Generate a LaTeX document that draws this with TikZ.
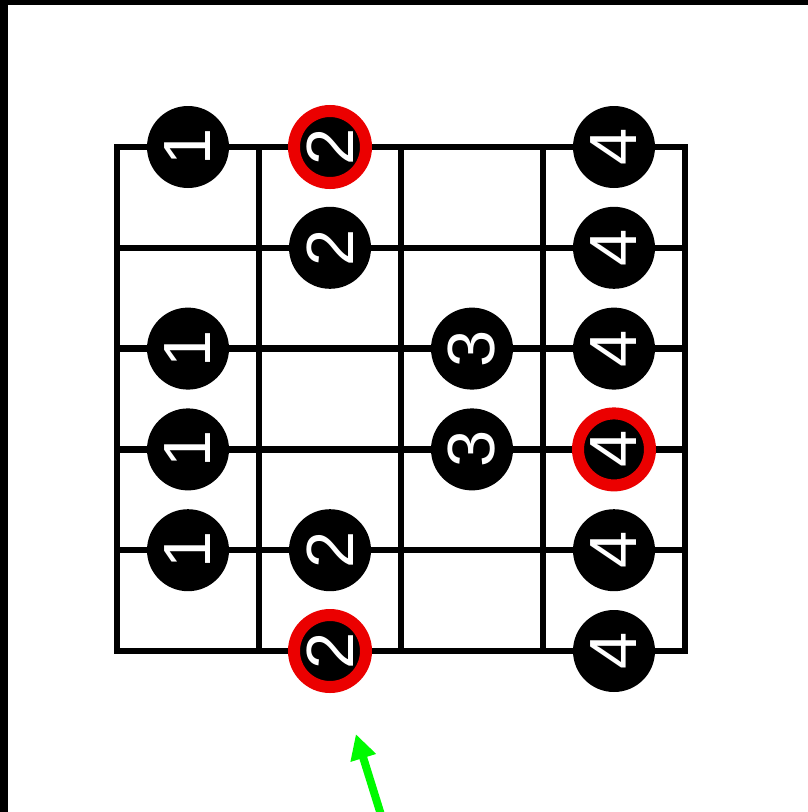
\documentclass[tikz,border=0pt]{standalone}
\usepackage{fontspec}
\usetikzlibrary{arrows.meta}
\newfontfamily\digitfont{Liberation Sans}
\definecolor{rootc}{RGB}{235,0,0}
\definecolor{hintc}{RGB}{0,250,0}
\newcommand{\GX}{2.34}
\newcommand{\GY}{-2.94}
\newcommand{\CW}{2.84}
\newcommand{\RH}{2.016}

\begin{document}
\begin{tikzpicture}[
    fret/.style={draw=black, line width=0.13cm, line cap=rect},
    finger/.style={circle, fill=black, minimum size=1.64cm, inner sep=0pt,
      text=white, rotate=90, font=\digitfont\fontsize{38}{40}\selectfont},
    root/.style={finger, draw=rootc, line width=0.24cm, minimum size=1.44cm},
    pointer/.style={draw=hintc, line width=0.16cm,
      -{Triangle[length=0.5cm, width=0.5cm]}, shorten >=0.9cm},
    edge/.style={fill=black},
  ]
  \useasboundingbox (0,0) rectangle (16.16,-16.24);

  % --- frame of the screenshot, top and left only
  \fill[edge] (0,0) rectangle (16.16,-0.10);
  \fill[edge] (0,0) rectangle (0.16,-16.24);

  % --- fretboard: 4 frets by 6 strings
  \foreach \i in {0,...,4} {
    \draw[fret] ({\GX+\i*\CW},\GY) -- ({\GX+\i*\CW},{\GY-5*\RH});
  }
  \foreach \j in {0,...,5} {
    \draw[fret] (\GX,{\GY-\j*\RH}) -- ({\GX+4*\CW},{\GY-\j*\RH});
  }

  % --- fingering dots, string/fret/finger
  \foreach \r/\c/\n in {0/1/1, 0/4/4, 1/2/2, 1/4/4, 2/1/1, 2/3/3, 2/4/4,
                        3/1/1, 3/3/3, 4/1/1, 4/2/2, 4/4/4, 5/4/4} {
    \node[finger] (d-\r-\c) at ({\GX+(\c-0.5)*\CW},{\GY-\r*\RH}) {\n};
  }
  % root notes ringed in red
  \foreach \r/\c/\n in {0/2/2, 3/4/4, 5/2/2} {
    \node[root] (d-\r-\c) at ({\GX+(\c-0.5)*\CW},{\GY-\r*\RH}) {\n};
  }

  % --- pointer to the low root
  \coordinate (hint) at (7.64,-16.36);
  \draw[pointer] (hint) -- (d-5-2);

\end{tikzpicture}
\end{document}
